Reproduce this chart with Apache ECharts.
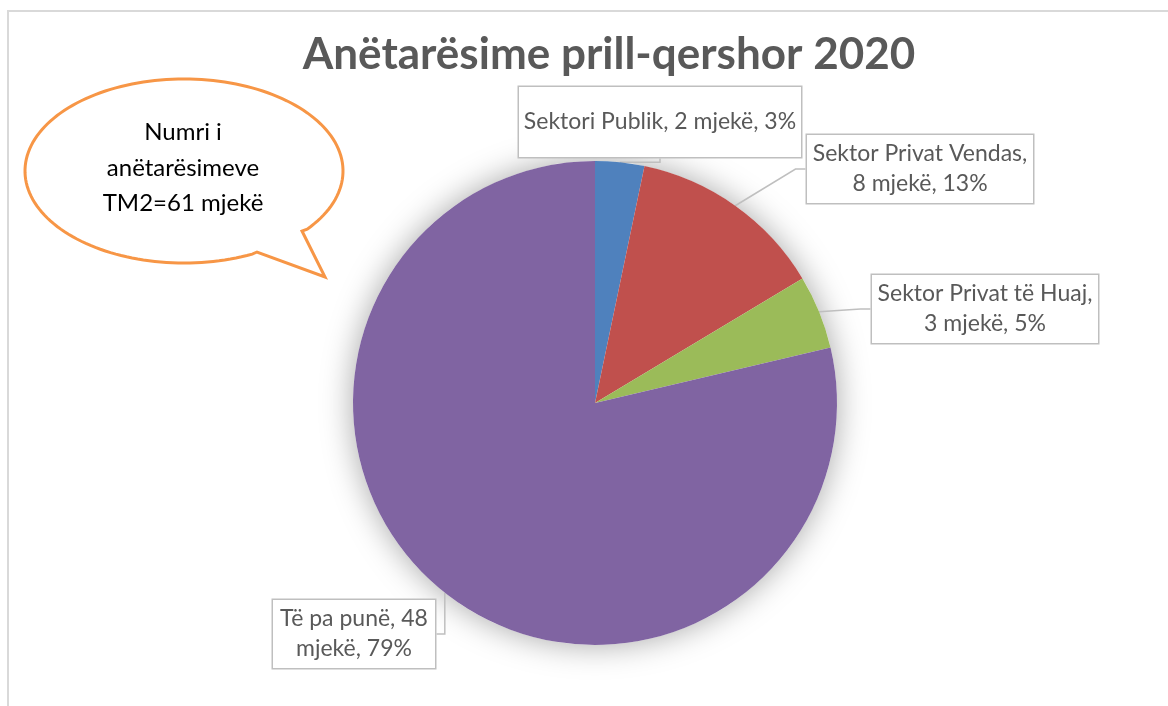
<!DOCTYPE html>
<html><head><meta charset="utf-8">
<script src="https://cdn.jsdelivr.net/npm/echarts@6/dist/echarts.min.js"></script>
<style>html,body{margin:0;padding:0;background:#fff}#chart{width:1168px;height:706px}</style>
</head><body><div id="chart"></div>
<script>
// ---- data ----
const categories = ['Sektori Publik', 'Sektor Privat Vendas', 'Sektor Privat të Huaj', 'Të pa punë'];
const values = [2, 8, 3, 48];
const unit = 'mjekë';
const titleText = 'Anëtarësime prill-qershor 2020';
const calloutLines = ['Numri i', 'anëtarësimeve', 'TM2=61 mjekë'];

// ---- styling / layout ----
const colors = ['#4F81BD', '#C0504D', '#9BBB59', '#8064A2'];
const FONT = 'Lato, "Open Sans", sans-serif';
const LABEL_CENTERS = [[660, 122], [920, 169], [985, 309], [354, 634]];
const LABEL_WIDTHS = [264, 210, 210, 146];
const LABEL_PADS = [[20, 9], [4, 8], [4, 8], [4, 8]];
// where each label wraps: 'none' | 'name' (after the name) | 'value' (after the count)
const LABEL_WRAP = ['none', 'name', 'name', 'value'];

// speech-bubble outline (decorative shape): ellipse + tail
function bubblePoints() {
  const cx = 184, cy = 171, rx = 159, ry = 92;
  const a1 = Math.atan2((252 - cy) / ry, (257 - cx) / rx);
  const a0 = Math.atan2((231 - cy) / ry, (302 - cx) / rx);
  const pts = [[302, 231], [325, 277], [257, 252]];
  let end = a0; while (end <= a1) end += Math.PI * 2;
  const n = 160;
  for (let k = 1; k < n; k++) {
    const t = a1 + (end - a1) * k / n;
    pts.push([cx + rx * Math.cos(t), cy + ry * Math.sin(t)]);
  }
  return pts;
}

function labelText(p) {
  const w = LABEL_WRAP[p.dataIndex];
  const s1 = w === 'name' ? '\n' : ' ';
  const s2 = w === 'value' ? '\n' : ' ';
  return `${p.name},${s1}${p.value}${s2}${unit}, ${Math.round(p.percent)}%`;
}

const total = values.reduce((a, b) => a + b, 0);
const chart = echarts.init(document.getElementById('chart'), null, {renderer: 'canvas'});

chart.setOption({
  animation: false,
  backgroundColor: '#fff',
  title: {
    text: titleText,
    left: 609, top: 33, padding: 0,
    textAlign: 'center', textVerticalAlign: 'top',
    textStyle: {fontFamily: FONT, fontWeight: 'bold', fontSize: 44, color: '#595959'}
  },
  graphic: [
    {type: 'rect', z: 0, silent: true,
     shape: {x: 8, y: 11, width: 1400, height: 1000},
     style: {fill: 'none', stroke: '#D9D9D9', lineWidth: 2}},
    {type: 'polygon', z: 10, silent: true,
     shape: {points: bubblePoints()},
     style: {fill: '#fff', stroke: '#F79646', lineWidth: 3, lineJoin: 'miter'}},
    {type: 'text', z: 11, silent: true, x: 183, y: 168,
     style: {text: calloutLines.join('\n'), align: 'center', verticalAlign: 'middle',
             fontFamily: FONT, fontSize: 24, lineHeight: 35.5, fill: '#000'}}
  ],
  series: [
    {
      type: 'pie', silent: true, z: 1,
      center: [595, 403], radius: 242,
      label: {show: false}, labelLine: {show: false},
      data: [{value: total, name: '', itemStyle: {color: '#fff', shadowBlur: 32, shadowColor: 'rgba(0,0,0,0.35)'}}]
    },
    {
      type: 'pie', z: 2,
      center: [595, 403], radius: 242,
      startAngle: 90, clockwise: true,
      avoidLabelOverlap: false,
      itemStyle: {borderWidth: 0},
      emphasis: {disabled: true},
      label: {
        show: true, position: 'outside',
        fontFamily: FONT, fontSize: 23, color: '#595959', lineHeight: 30,
        backgroundColor: '#fff', borderColor: '#BFBFBF', borderWidth: 1.5,
        align: 'center', overflow: 'none',
        formatter: labelText
      },
      labelLine: {show: true, length: 10, length2: 10, smooth: false,
                  lineStyle: {color: '#BFBFBF', width: 1.5}},
      labelLayout: p => ({
        x: LABEL_CENTERS[p.dataIndex][0], y: LABEL_CENTERS[p.dataIndex][1],
        align: 'center', verticalAlign: 'middle'
      }),
      data: categories.map((c, i) => ({
        name: c, value: values[i],
        itemStyle: {color: colors[i]},
        label: {width: LABEL_WIDTHS[i], padding: LABEL_PADS[i]}
      }))
    }
  ]
});
</script></body></html>
